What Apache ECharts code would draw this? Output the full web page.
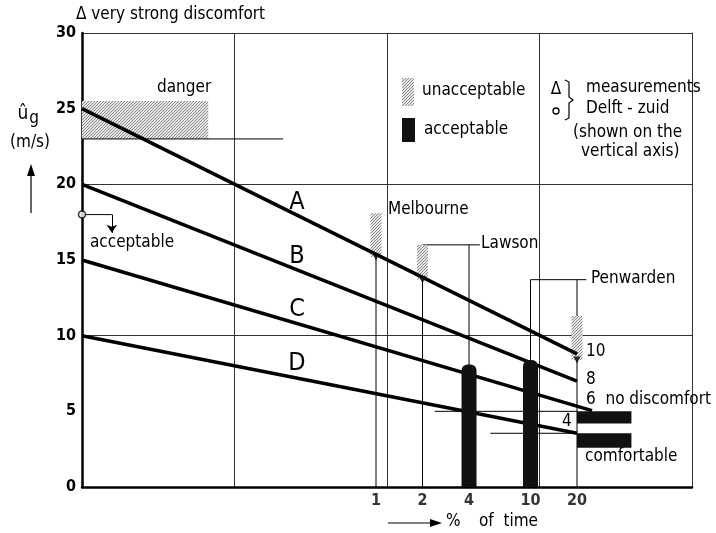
<!DOCTYPE html>
<html><head><meta charset="utf-8">
<script src="https://cdn.jsdelivr.net/npm/echarts@6/dist/echarts.min.js"></script>
<style>html,body{margin:0;padding:0;background:#fff}#c{width:716px;height:533px}</style>
</head><body><div id="c"></div>
<script>
// ---- data ----
const X_MIN = 0.0125, X_MAX = 111;           // % of time (log axis extent)
const xTickLabels = [1, 2, 4, 10, 20];
const curveA = [[X_MIN, 25], [20, 8.8]];
const curveB = [[X_MIN, 20], [20, 7.0]];
const curveC = [[X_MIN, 15], [25, 5.05]];
const curveD = [[X_MIN, 10], [20, 3.55]];
const curveNames = ['A', 'B', 'C', 'D'];
// unacceptable (hatched): [% of time, low, high]
const unacceptable = [[1, 15.2, 18.1], [2, 13.7, 16.0], [20, 8.4, 11.3]];
// acceptable (black): [% of time, low, high]
const acceptable = [[4, 0, 8.1], [10, 0, 8.4]];
// danger zone: [x0, x1, y0, y1]
const dangerZone = [[X_MIN, 0.082, 23.0, 25.5]];
// comfort bands: [x0, x1, y0, y1]
const comfortBands = [[20, 45, 4.2, 5.0], [20, 45, 2.6, 3.55]];
const measurementMarks = [[1, 15.2], [2, 13.7], [20, 8.4]];
const delftPoint = [[X_MIN, 18]];
const delftArrowH = [[X_MIN, 18], [0.0195, 18]];
const delftArrowV = [[0.0195, 18], [0.0195, 16.8]];
const leaderLines = [
  [[X_MIN, 23], [0.25, 23]],
  [[2.4, 5.0], [20, 5.0]],
  [[5.5, 3.55], [20, 3.55]],
  [[1, 15.2], [1, 0]],
  [[2, 13.7], [2, 0]],
  [[2, 16.0], [4.7, 16.0]],
  [[4, 16.0], [4, 0]],
  [[10, 8.4], [10, 13.7], [23, 13.7]],
  [[20, 13.7], [20, 0]]
];

// ---- stipple pattern ----
const pc = document.createElement('canvas');
pc.width = 3; pc.height = 3;
const g = pc.getContext('2d');
g.fillStyle = '#e6e6e6'; g.fillRect(0, 0, 3, 3);
g.fillStyle = '#8c8c8c'; g.fillRect(0, 0, 1, 1); g.fillRect(2, 1, 1, 1); g.fillRect(1, 2, 1, 1);
const hatch = { image: pc, repeat: 'repeat' };

const FF = '"DejaVu Sans Condensed", "DejaVu Sans", sans-serif';
const chart = echarts.init(document.getElementById('c'));

function txt(t, x, y, size, align) {
  return {
    type: 'text', x: x, y: y, z: 100,
    style: { text: t, fill: '#000', font: (size || 16) + 'px ' + FF,
             textAlign: align || 'left', textVerticalAlign: 'middle' }
  };
}

const curveSeries = [curveA, curveB, curveC, curveD].map((d, i) => ({
  name: curveNames[i], type: 'line', data: d, symbol: 'none', z: 5,
  lineStyle: { color: '#000', width: 3.5 }, silent: true
}));

chart.setOption({
  animation: false,
  backgroundColor: '#fff',
  grid: { left: 82, right: 24, top: 33, bottom: 46 },
  xAxis: [
    { type: 'log', min: X_MIN, max: X_MAX, logBase: 10,
      axisLine: { show: true, lineStyle: { color: '#000', width: 2.5 } },
      axisTick: { show: false }, axisLabel: { show: false },
      splitLine: { show: false }, minorTick: { show: false } },
    { type: 'value', min: 0, max: 4, interval: 1, position: 'top',
      axisLine: { show: false }, axisTick: { show: false }, axisLabel: { show: false },
      splitLine: { show: true, lineStyle: { color: '#333', width: 1 } } }
  ],
  yAxis: [
    { type: 'value', min: 0, max: 30, interval: 5,
      axisLine: { show: true, lineStyle: { color: '#000', width: 2.5 } },
      axisTick: { show: false },
      axisLabel: { color: '#000', fontWeight: 'bold', fontSize: 16, fontFamily: FF, margin: 6 },
      splitLine: { show: false } },
    { type: 'value', min: 0, max: 30, interval: 10, position: 'right',
      axisLine: { show: true, lineStyle: { color: '#333', width: 1 } },
      axisTick: { show: false }, axisLabel: { show: false },
      splitLine: { show: true, lineStyle: { color: '#333', width: 1 } } }
  ],
  series: [
    { type: 'custom', name: 'danger', data: dangerZone, z: 2, silent: true,
      encode: { x: [0, 1], y: [2, 3] },
      renderItem: (p, api) => {
        const a = api.coord([api.value(0), api.value(3)]);
        const b = api.coord([api.value(1), api.value(2)]);
        return { type: 'rect', shape: { x: a[0], y: a[1], width: b[0] - a[0], height: b[1] - a[1] },
                 style: { fill: hatch } };
      } },
    { type: 'lines', coordinateSystem: 'cartesian2d', polyline: true, z: 3, silent: true,
      lineStyle: { color: '#000', width: 1, opacity: 1 },
      data: leaderLines.map(c => ({ coords: c })) },
    { type: 'lines', coordinateSystem: 'cartesian2d', polyline: true, z: 3, silent: true,
      lineStyle: { color: '#000', width: 1, opacity: 1 },
      data: [{ coords: delftArrowH }] },
    { type: 'lines', coordinateSystem: 'cartesian2d', z: 3, silent: true,
      symbol: ['none', 'arrow'], symbolSize: 8,
      lineStyle: { color: '#000', width: 1, opacity: 1 },
      data: [{ coords: delftArrowV }] },
    { type: 'custom', name: 'unacceptable', data: unacceptable, z: 4, silent: true,
      encode: { x: 0, y: [1, 2] },
      renderItem: (p, api) => {
        const x = api.value(0);
        const top = api.coord([x, api.value(2)]);
        const bot = api.coord([x, api.value(1)]);
        const w = 11;
        return { type: 'rect', shape: { x: top[0] - w / 2, y: top[1], width: w, height: bot[1] - top[1] },
                 style: { fill: hatch } };
      } },
    ...curveSeries,
    { type: 'custom', name: 'acceptable', data: acceptable, z: 6, silent: true,
      encode: { x: 0, y: [1, 2] },
      renderItem: (p, api) => {
        const x = api.value(0);
        const top = api.coord([x, api.value(2)]);
        const bot = api.coord([x, api.value(1)]);
        const w = 15;
        return { type: 'rect', shape: { x: top[0] - w / 2, y: top[1], width: w, height: bot[1] - top[1], r: [6, 6, 0, 0] },
                 style: { fill: '#111' } };
      } },
    { type: 'custom', name: 'bands', data: comfortBands, z: 6, silent: true,
      encode: { x: [0, 1], y: [2, 3] },
      renderItem: (p, api) => {
        const a = api.coord([api.value(0), api.value(3)]);
        const b = api.coord([api.value(1), api.value(2)]);
        return { type: 'rect', shape: { x: a[0], y: a[1], width: b[0] - a[0], height: b[1] - a[1] },
                 style: { fill: '#111' } };
      } },
    { type: 'scatter', data: measurementMarks, symbol: 'triangle', symbolRotate: 180, symbolSize: 7,
      itemStyle: { color: '#000' }, z: 7, silent: true },
    { type: 'scatter', data: delftPoint, symbol: 'circle', symbolSize: 7, clip: false,
      itemStyle: { color: '#fff', borderColor: '#000', borderWidth: 1.5 }, z: 8, silent: true },
    { type: 'scatter', data: xTickLabels.map(v => [v, 0]), symbolSize: 1, clip: false, silent: true,
      itemStyle: { color: 'rgba(0,0,0,0)' },
      label: { show: true, position: 'bottom', distance: 5, formatter: p => String(p.value[0]),
               color: '#000', fontWeight: 'bold', fontSize: 16, fontFamily: FF } }
  ],
  graphic: [
    txt('\u0394 very strong discomfort', 76, 15, 17),
    txt('danger', 157, 88, 17),
    txt('unacceptable', 422, 91, 17),
    txt('acceptable', 424, 130, 17),
    { type: 'rect', shape: { x: 402, y: 78, width: 12, height: 28 }, style: { fill: hatch }, z: 100 },
    { type: 'rect', shape: { x: 402, y: 118, width: 13, height: 24 }, style: { fill: '#111' }, z: 100 },
    txt('\u0394', 556, 90, 17, 'center'),
    { type: 'circle', shape: { cx: 556, cy: 111, r: 3 }, style: { fill: 'none', stroke: '#000', lineWidth: 1.3 }, z: 100 },
    { type: 'polyline', shape: { points: [[565, 80], [569, 82], [569, 97], [573, 100], [569, 103], [569, 118], [565, 120]] },
      style: { stroke: '#000', lineWidth: 1.2, fill: null }, z: 100 },
    txt('measurements', 586, 88, 17),
    txt('Delft - zuid', 586, 109, 17),
    txt('(shown on the', 573, 133, 17),
    txt('vertical axis)', 581, 152, 17),
    txt('Melbourne', 388, 210, 17),
    txt('Lawson', 481, 244, 17),
    txt('Penwarden', 591, 279, 17),
    txt('10', 586, 352, 17),
    txt('8', 586, 380, 17),
    txt('6  no discomfort', 586, 400, 17),
    txt('4', 562, 422, 17),
    txt('comfortable', 585, 457, 17),
    txt('acceptable', 90, 243, 17),
    txt('A', 297, 202, 25, 'center'),
    txt('B', 297, 256, 25, 'center'),
    txt('C', 297, 309, 25, 'center'),
    txt('D', 297, 363, 25, 'center'),
    txt('\u00fb', 23, 114, 19, 'center'),
    txt('g', 34, 119, 17, 'center'),
    txt('(m/s)', 30, 143, 17, 'center'),
    { type: 'line', shape: { x1: 31, y1: 213, x2: 31, y2: 174 }, style: { stroke: '#000', lineWidth: 1.2 }, z: 100 },
    { type: 'polygon', shape: { points: [[27, 176], [31, 164], [35, 176]] }, style: { fill: '#000' }, z: 100 },
    { type: 'line', shape: { x1: 388, y1: 523, x2: 432, y2: 523 }, style: { stroke: '#000', lineWidth: 1.2 }, z: 100 },
    { type: 'polygon', shape: { points: [[430, 519], [442, 523], [430, 527]] }, style: { fill: '#000' }, z: 100 },
    txt('%', 446, 522, 17),
    txt('of  time', 479, 522, 17)
  ]
});
</script></body></html>
